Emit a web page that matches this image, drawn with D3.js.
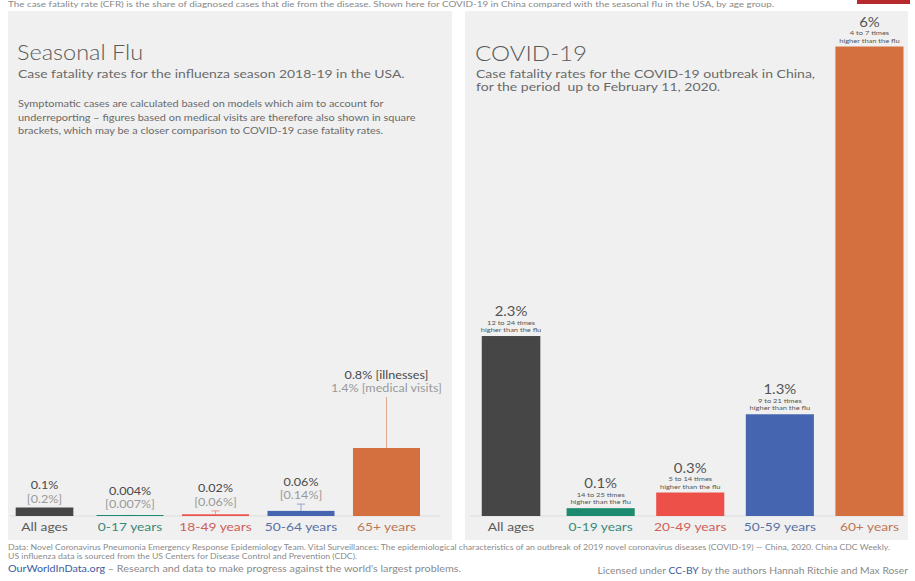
<!DOCTYPE html>
<html>
<head>
<meta charset="utf-8">
<script src="https://cdn.jsdelivr.net/npm/d3@7"></script>
<style>
  html, body { margin: 0; padding: 0; background: #fff; }
  svg { display: block; font-family: Lato, "Open Sans", sans-serif; }
</style>
</head>
<body>
<svg id="chart" width="915" height="581"></svg>
<script>
// ---------- DATA ----------
const fluCategories = ["All ages", "0-17 years", "18-49 years", "50-64 years", "65+ years"];
const fluIllness = [0.1, 0.004, 0.02, 0.06, 0.8];          // % CFR based on symptomatic illnesses
const fluMedical = [0.2, 0.007, 0.06, 0.14, 1.4];          // % CFR based on medical visits
const fluLabelTop = ["0.1%", "0.004%", "0.02%", "0.06%", "0.8% [illnesses]"];
const fluLabelBottom = ["[0.2%]", "[0.007%]", "[0.06%]", "[0.14%]", "1.4% [medical visits]"];

const covidCategories = ["All ages", "0-19 years", "20-49 years", "50-59 years", "60+ years"];
const covidValues = [2.3, 0.1, 0.3, 1.3, 6];
const covidLabels = ["2.3%", "0.1%", "0.3%", "1.3%", "6%"];
const covidTimes = ["12 to 24 times", "14 to 25 times", "5 to 14 times", "9 to 21 times", "4 to 7 times"];

const ageColors = ["#464646", "#1b8a6f", "#ec5048", "#4565b0", "#d46f3f"];

// ---------- SVG ----------
const svg = d3.select("#chart");
const SX = 1.2; // horizontal text stretch

function T(parent, x, y, str, o) {
  const t = parent.append("text")
    .attr("transform", `translate(${x},${y}) scale(${o.sx || SX},1)`)
    .attr("text-anchor", o.anchor || "start")
    .attr("font-size", o.size).attr("fill", o.fill || "#666");
  if (o.weight) t.attr("font-weight", o.weight);
  if (str !== null) t.text(str);
  return t;
}

// header line (partially visible top of chart)
const hdr = T(svg, 8, 6.5, "The case fatality rate (CFR) is the share of diagnosed cases that die from the disease. Shown here for COVID-19 in China compared with the seasonal flu in the USA, by age group.", { size: 7.5, fill: "#888", sx: 1 });
const hl = hdr.node().getComputedTextLength();
hdr.attr("transform", `translate(8,6.5) scale(${767 / hl},1)`);
svg.append("rect").attr("x", 857).attr("y", 0).attr("width", 53).attr("height", 4).attr("fill", "#b62a2e");

// panels
const panelTop = 11, panelBottom = 540;
svg.append("rect").attr("x", 8).attr("y", panelTop).attr("width", 444).attr("height", panelBottom - panelTop).attr("fill", "#f0f0f0");
svg.append("rect").attr("x", 465).attr("y", panelTop).attr("width", 443).attr("height", panelBottom - panelTop).attr("fill", "#f0f0f0");

// y scales
const yL = d3.scaleLinear().domain([0, 1.5]).range([516, 388.5]);
const yR = d3.scaleLinear().domain([0, 6]).range([516, 46.5]);

// ---------- LEFT PANEL ----------
T(svg, 17, 60, "Seasonal Flu", { size: 21, weight: 300, fill: "#5a5a5a", sx: 1.12 });
T(svg, 18, 77.5, "Case fatality rates for the influenza season 2018-19 in the USA.", { size: 11.5, fill: "#6a6a6a", sx: 1.21 });
const desc = [
  "Symptomatic cases are calculated based on models which aim to account for",
  "underreporting – figures based on medical visits are therefore also shown in square",
  "brackets, which may be a closer comparison to COVID-19 case fatality rates."
];
desc.forEach((d, i) => T(svg, 18, 107 + i * 13.5, d, { size: 9, fill: "#6a6a6a", sx: 1.22 }));

const xL = d3.scaleBand().domain(fluCategories).range([11, 420]).paddingInner(0.216).paddingOuter(0);
const xR = d3.scaleBand().domain(covidCategories).range([477, 903.5]).paddingInner(0.24).paddingOuter(0);

function barX(x, cat, i) { const w = x.bandwidth() * (i === 0 ? 0.86 : 1); return x(cat) + (x.bandwidth() - w) / 2; }
function barW(x, i) { return x.bandwidth() * (i === 0 ? 0.86 : 1); }
const cx = (x, d) => x(d) + x.bandwidth() / 2;

// baselines
svg.append("line").attr("x1", 10).attr("x2", 440).attr("y1", 516).attr("y2", 516).attr("stroke", "#ddd").attr("stroke-width", 1);
svg.append("line").attr("x1", 470).attr("x2", 906).attr("y1", 516).attr("y2", 516).attr("stroke", "#ddd").attr("stroke-width", 1);

const gL = svg.append("g");
const whiskerIdx = [1, 2, 3, 4];
const light = i => d3.interpolateRgb(ageColors[i], "#f0f0f0")(0.45);
gL.selectAll("line.wh").data(whiskerIdx).join("line")
  .attr("x1", i => cx(xL, fluCategories[i])).attr("x2", i => cx(xL, fluCategories[i]))
  .attr("y1", i => yL(fluIllness[i])).attr("y2", i => yL(fluMedical[i]))
  .attr("stroke", i => light(i)).attr("stroke-width", 1);
gL.selectAll("line.cap").data(whiskerIdx.filter(i => i < 4)).join("line")
  .attr("x1", i => cx(xL, fluCategories[i]) - 4).attr("x2", i => cx(xL, fluCategories[i]) + 4)
  .attr("y1", i => yL(fluMedical[i])).attr("y2", i => yL(fluMedical[i]))
  .attr("stroke", i => light(i)).attr("stroke-width", 1);
gL.selectAll("rect").data(fluCategories).join("rect")
  .attr("x", (d, i) => barX(xL, d, i)).attr("width", (d, i) => barW(xL, i))
  .attr("y", (d, i) => Math.min(yL(fluIllness[i]), 515)).attr("height", (d, i) => Math.max(516 - yL(fluIllness[i]), 1))
  .attr("fill", (d, i) => ageColors[i]);

// value labels
fluCategories.forEach((d, i) => {
  const ref = i === 0 ? yL(fluIllness[i]) : Math.min(yL(fluMedical[i]), yL(fluIllness[i]));
  const low = Math.min(ref, 513) - 5;
  T(gL, cx(xL, d), low - 13.5, fluLabelTop[i], { size: 10.5, fill: "#4a4a4a", anchor: "middle", sx: 1.2 });
  T(gL, cx(xL, d), low, fluLabelBottom[i], { size: 10.5, fill: "#9a9a9a", anchor: "middle", sx: 1.2 });
});

// x labels
fluCategories.forEach((d, i) =>
  T(gL, cx(xL, d), 531, d, { size: 11.5, anchor: "middle", fill: d3.interpolateRgb(ageColors[i], "#888")(0.3), sx: 1.2 }));

// ---------- RIGHT PANEL ----------
T(svg, 475, 61, "COVID-19", { size: 21, weight: 300, fill: "#5a5a5a", sx: 1.15 });
T(svg, 476, 77.5, "Case fatality rates for the COVID-19 outbreak in China,", { size: 11.5, fill: "#6a6a6a", sx: 1.22 });
T(svg, 476, 90.5, "for the period  up to February 11, 2020.", { size: 11.5, fill: "#6a6a6a", sx: 1.22 }).attr("xml:space", "preserve");

const gR = svg.append("g");
gR.selectAll("rect").data(covidCategories).join("rect")
  .attr("x", (d, i) => barX(xR, d, i)).attr("width", (d, i) => barW(xR, i))
  .attr("y", (d, i) => yR(covidValues[i])).attr("height", (d, i) => yR(0) - yR(covidValues[i]))
  .attr("fill", (d, i) => ageColors[i]);
covidCategories.forEach((d, i) => {
  const top = yR(covidValues[i]);
  T(gR, cx(xR, d), top - 20, covidLabels[i], { size: 13, fill: "#555", anchor: "middle", sx: 1.15 });
  T(gR, cx(xR, d), top - 11.5, covidTimes[i], { size: 6, fill: "#555", anchor: "middle", sx: 1.25 });
  T(gR, cx(xR, d), top - 4, "higher than the flu", { size: 6, fill: "#555", anchor: "middle", sx: 1.25 });
  T(gR, cx(xR, d), 531, d, { size: 11.5, anchor: "middle", fill: d3.interpolateRgb(ageColors[i], "#888")(0.3), sx: 1.2 });
});

// ---------- FOOTER ----------
T(svg, 8, 550, "Data: Novel Coronavirus Pneumonia Emergency Response Epidemiology Team. Vital Surveillances: The epidemiological characteristics of an outbreak of 2019 novel coronavirus diseases (COVID-19) — China, 2020. China CDC Weekly.", { size: 7, fill: "#8a8a8a", sx: 1.24 });
T(svg, 8, 559, "US influenza data is sourced from the US Centers for Disease Control and Prevention (CDC).", { size: 7, fill: "#8a8a8a", sx: 1.24 });
const l3 = T(svg, 8, 572, null, { size: 9, fill: "#8a8a8a", sx: 1.2 });
l3.append("tspan").attr("fill", "#3b5c9e").text("OurWorldInData.org");
l3.append("tspan").text(" – Research and data to make progress against the world's largest problems.");
const l4 = T(svg, 908, 574, null, { size: 8.6, fill: "#8a8a8a", anchor: "end", sx: 1.2 });
l4.append("tspan").text("Licensed under ");
l4.append("tspan").attr("fill", "#3b5c9e").text("CC-BY");
l4.append("tspan").text(" by the authors Hannah Ritchie and Max Roser");
</script>
</body>
</html>
